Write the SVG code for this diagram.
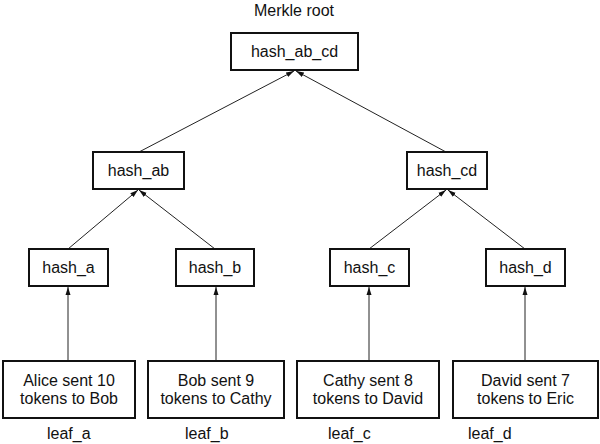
<svg xmlns="http://www.w3.org/2000/svg" width="600" height="444" viewBox="0 0 600 444">
<style>
.box{fill:#fff;stroke:#111;stroke-width:2}
.t{font-family:"Liberation Sans",Arial,sans-serif;font-size:16px;fill:#111;text-anchor:middle}
.lbl{font-family:"Liberation Sans",Arial,sans-serif;font-size:16px;fill:#111}
.edge{stroke:#222;stroke-width:1;fill:none;marker-end:url(#ah)}
</style>
<defs>
<marker id="ah" markerWidth="8" markerHeight="6" refX="8" refY="3" orient="auto" markerUnits="userSpaceOnUse">
<path d="M0,0.5 L8,3 L0,5.5 z" fill="#111"/>
</marker>
</defs>
<rect width="600" height="444" fill="#fff"/>
<text class="t" x="294" y="16">Merkle root</text>
<g id="connectors">
<line class="edge" x1="139" y1="152" x2="294" y2="71"/>
<line class="edge" x1="446" y1="152" x2="296" y2="71"/>
<line class="edge" x1="68" y1="249" x2="138" y2="190"/>
<line class="edge" x1="215" y1="249" x2="139" y2="190"/>
<line class="edge" x1="369" y1="249" x2="446" y2="190"/>
<line class="edge" x1="525" y1="249" x2="448" y2="190"/>
<line class="edge" x1="68" y1="360" x2="68" y2="287"/>
<line class="edge" x1="216" y1="360" x2="216" y2="287"/>
<line class="edge" x1="369" y1="360" x2="369" y2="287"/>
<line class="edge" x1="525" y1="360" x2="525" y2="287"/>
</g>
<g id="hash_ab_cd"><rect class="box" x="231" y="33" width="127" height="37"/><text class="t" x="294.5" y="57">hash_ab_cd</text></g>
<g id="hash_ab"><rect class="box" x="93" y="152" width="91" height="37"/><text class="t" x="138.5" y="176">hash_ab</text></g>
<g id="hash_cd"><rect class="box" x="407" y="152" width="80" height="37"/><text class="t" x="447" y="176">hash_cd</text></g>
<g id="hash_a"><rect class="box" x="29" y="249" width="79" height="37"/><text class="t" x="68.5" y="273">hash_a</text></g>
<g id="hash_b"><rect class="box" x="176" y="249" width="78" height="37"/><text class="t" x="215" y="273">hash_b</text></g>
<g id="hash_c"><rect class="box" x="330" y="249" width="79" height="37"/><text class="t" x="369.5" y="273">hash_c</text></g>
<g id="hash_d"><rect class="box" x="486" y="249" width="79" height="37"/><text class="t" x="525.5" y="273">hash_d</text></g>
<g id="leaf_a"><rect class="box" x="3" y="361" width="132" height="57"/><text class="t" x="69" y="386">Alice sent 10</text><text class="t" x="69" y="404">tokens to Bob</text><text class="lbl" x="47" y="439">leaf_a</text></g>
<g id="leaf_b"><rect class="box" x="148" y="361" width="136" height="57"/><text class="t" x="216" y="386">Bob sent 9</text><text class="t" x="216" y="404">tokens to Cathy</text><text class="lbl" x="185" y="439">leaf_b</text></g>
<g id="leaf_c"><rect class="box" x="297" y="361" width="142" height="57"/><text class="t" x="368" y="386">Cathy sent 8</text><text class="t" x="368" y="404">tokens to David</text><text class="lbl" x="328" y="439">leaf_c</text></g>
<g id="leaf_d"><rect class="box" x="453" y="361" width="145" height="57"/><text class="t" x="525.5" y="386">David sent 7</text><text class="t" x="525.5" y="404">tokens to Eric</text><text class="lbl" x="468" y="439">leaf_d</text></g>
</svg>
